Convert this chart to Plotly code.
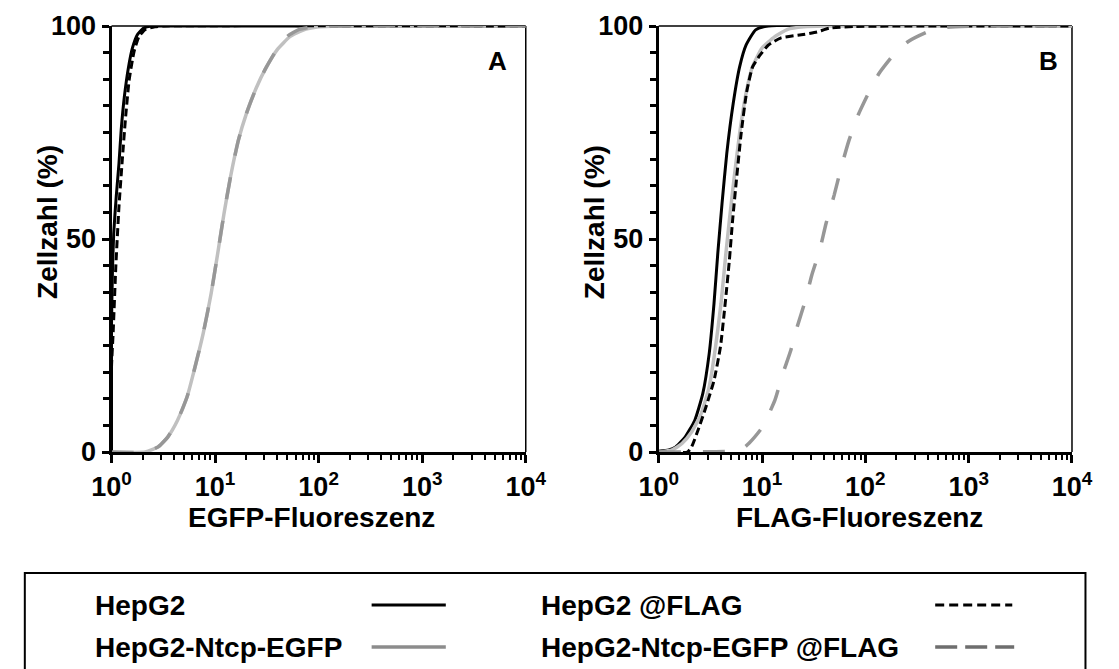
import plotly.graph_objects as go

# ---------------- data ----------------
# Panel A: EGFP fluorescence, cumulative cell number (%)
A_hepg2_x = [1.0, 1.0, 1.02, 1.05, 1.11, 1.18, 1.24, 1.33, 1.46, 1.59, 1.77, 2.04, 2.44, 3.0, 10000]
A_hepg2_y = [0, 30, 42, 51.3, 59.9, 67.7, 75.6, 83.4, 90.4, 94.8, 97.9, 99.5, 100, 100, 100]

A_hepg2_flag_x = [1.0, 1.0, 1.036, 1.10, 1.18, 1.27, 1.36, 1.48, 1.65, 1.84, 2.12, 2.62, 3.2, 10000]
A_hepg2_flag_y = [0, 20, 27.8, 43.5, 57.6, 68.5, 77.9, 87.3, 94.0, 97.5, 99.2, 99.8, 100, 100]

A_ntcp_x = [1.0, 2.12, 2.82, 3.49, 4.33, 5.36, 6.41, 7.67, 9.16, 10.6, 12.2, 14.1, 16.8, 20.1,
            24.9, 30.9, 39.7, 52.8, 70, 100, 160, 10000]
A_ntcp_y = [0, 0, 1.2, 3.5, 7.4, 12.9, 20.0, 27.8, 37.2, 46.6, 56.0, 64.6, 73.2, 79.5,
            85.4, 90.1, 94.4, 97.5, 99.0, 99.8, 100, 100]

A_ntcp_flag_x = [1.0, 2.12, 2.82, 3.49, 4.33, 5.36, 6.41, 7.67, 9.16, 10.6, 12.2, 14.1, 16.8, 20.1,
                 24.9, 30.9, 39.7, 50, 65, 90, 140, 10000]
A_ntcp_flag_y = [0, 0, 1.2, 3.5, 7.4, 12.9, 20.0, 27.8, 37.2, 46.6, 56.0, 64.6, 73.2, 79.5,
                 85.4, 90.1, 94.6, 97.6, 99.2, 99.8, 100, 100]

# Panel B: FLAG fluorescence
B_hepg2_x = [1.0, 1.25, 1.46, 1.80, 2.23, 2.67, 3.08, 3.43, 3.73, 4.10, 4.56, 5.26, 6.07, 7.0, 8.67, 11.5, 10000]
B_hepg2_y = [0.2, 0.5, 1.2, 3.5, 7.4, 13.7, 23.1, 34.9, 46.6, 58.3, 70.1, 81.8, 90.4, 95.5, 99.1, 100, 100]

B_ntcp_x = [1.0, 1.35, 1.68, 2.08, 2.58, 3.08, 3.55, 4.01, 4.40, 4.83, 5.34, 6.07, 7.0, 8.07,
            10.0, 13.3, 17.7, 25.3, 40, 10000]
B_ntcp_y = [0, 0.5, 2.0, 4.7, 9.0, 15.3, 24.7, 34.9, 45.0, 54.4, 63.8, 74.8, 84.2, 90.4,
            94.8, 97.5, 99.2, 99.8, 100, 100]

B_hepg2_flag_x = [1.0, 1.9, 2.08, 2.40, 2.87, 3.43, 3.96, 4.40, 4.83, 5.19, 5.65, 6.28, 7.1, 8.1,
                  9.6, 11.5, 15.3, 25, 34, 45, 79, 10000]
B_hepg2_flag_y = [0, 0, 1.2, 5.1, 10.6, 16.8, 24.7, 34.9, 45.0, 54.4, 63.8, 74.8, 84.5, 90.4,
                  93.2, 95.5, 97.2, 98.0, 98.6, 99.5, 99.9, 100]

B_ntcp_flag_x = [1.0, 5.0, 6.5, 7.52, 10.0, 13.3, 15.9, 19.0, 21.9, 26.2, 30.3, 36.1, 41.7, 49.9,
                 57.5, 68.7, 85.2, 109, 136, 187, 258, 409, 628, 1180, 10000]
B_ntcp_flag_y = [0, 0.2, 0.8, 2.1, 5.7, 12.1, 18.4, 23.9, 29.4, 35.5, 41.5, 47.3, 53.7, 60.3,
                 66.2, 72.8, 79.1, 84.6, 88.9, 93.2, 96.3, 98.7, 99.7, 100, 100]

series_names = ["HepG2", "HepG2-Ntcp-EGFP", "HepG2 @FLAG", "HepG2-Ntcp-EGFP @FLAG"]
x_tickvals = [1, 10, 100, 1000, 10000]
x_ticktext = ["10<sup>0</sup>", "10<sup>1</sup>", "10<sup>2</sup>", "10<sup>3</sup>", "10<sup>4</sup>"]
y_tickvals = [0, 50, 100]
y_ticktext = ["0", "50", "100"]
x_titles = ["EGFP-Fluoreszenz", "FLAG-Fluoreszenz"]
y_title = "Zellzahl (%)"
panel_letters = ["A", "B"]

# ---------------- styling ----------------
FONT = "Liberation Sans, Arial, sans-serif"
W, H = 1119, 669
Y0_PX, Y1_PX = 452, 26          # pixel rows of y=0 and y=100
PH = Y0_PX - Y1_PX


def py(px):   # pixel row -> paper y
    return (Y0_PX - px) / PH


def pxx(px):  # pixel column -> paper x
    return px / W


styles = {
    "HepG2": dict(color="black", width=3, dash="solid"),
    "HepG2-Ntcp-EGFP": dict(color="#c0c0c0", width=3.5, dash="solid"),
    "HepG2 @FLAG": dict(color="black", width=3, dash="8px,4px"),
    "HepG2-Ntcp-EGFP @FLAG": dict(color="#979797", width=3.5, dash="22px,22px"),
}

fig = go.Figure()

panelA = [(A_hepg2_x, A_hepg2_y), (A_ntcp_x, A_ntcp_y), (A_hepg2_flag_x, A_hepg2_flag_y),
          (A_ntcp_flag_x, A_ntcp_flag_y)]
panelB = [(B_hepg2_x, B_hepg2_y), (B_ntcp_x, B_ntcp_y), (B_hepg2_flag_x, B_hepg2_flag_y),
          (B_ntcp_flag_x, B_ntcp_flag_y)]

for (xs, ys), name in zip(panelA, series_names):
    fig.add_trace(go.Scatter(x=xs, y=ys, mode="lines", name=name, xaxis="x", yaxis="y",
                             line=dict(shape="spline", smoothing=0.5, **styles[name]),
                             showlegend=False))
for (xs, ys), name in zip(panelB, series_names):
    fig.add_trace(go.Scatter(x=xs, y=ys, mode="lines", name=name, xaxis="x2", yaxis="y2",
                             line=dict(shape="spline", smoothing=0.5, **styles[name]),
                             showlegend=False))

minor_x = [m * 10 ** d for d in range(4) for m in range(2, 10)]
minor_y = [i * 6.25 for i in range(17) if (i * 6.25) not in y_tickvals]

tickfont = dict(family=FONT, size=27, color="black", weight="bold")


def xaxis(domain, anchor):
    return dict(domain=domain, anchor=anchor, type="log", range=[0, 4],
                tickmode="array", tickvals=x_tickvals, ticktext=x_ticktext,
                ticks="outside", ticklen=8, tickwidth=2.5, tickcolor="black",
                minor=dict(tickvals=minor_x, ticks="outside", ticklen=5, tickwidth=2, tickcolor="black"),
                showline=True, linewidth=3, linecolor="black",
                showgrid=False, zeroline=False, tickfont=tickfont, ticklabelstandoff=1)


def yaxis(anchor):
    return dict(domain=[0, 1], anchor=anchor, range=[0, 100],
                tickmode="array", tickvals=y_tickvals, ticktext=y_ticktext,
                ticks="outside", ticklen=7, tickwidth=2.5, tickcolor="black",
                minor=dict(tickvals=minor_y, ticks="outside", ticklen=6, tickwidth=2.5, tickcolor="black"),
                showline=True, linewidth=3, linecolor="black",
                showgrid=False, zeroline=False, tickfont=tickfont)


xA = [pxx(95), pxx(525)]
xB = [pxx(663), pxx(1092)]

annotations = []
shapes = []

# panel frames (thin top and right lines)
for xr, yr in [("x domain", "y domain"), ("x2 domain", "y2 domain")]:
    shapes.append(dict(type="line", xref=xr, yref=yr, x0=0, x1=1, y0=1, y1=1,
                       line=dict(color="black", width=1.5), layer="below"))
    shapes.append(dict(type="line", xref=xr, yref=yr, x0=1, x1=1, y0=0, y1=1,
                       line=dict(color="black", width=1.5), layer="below"))

# axis titles and panel letters
title_font = dict(family=FONT, size=28, color="black", weight="bold")
for i, (xt, letter) in enumerate(zip(x_titles, panel_letters)):
    off = 0 if i == 0 else 568
    annotations.append(dict(text=xt, xref="paper", yref="paper", x=pxx(303 + off),
                            y=py(517), xanchor="center", yanchor="middle", showarrow=False,
                            font=title_font))
    annotations.append(dict(text=y_title, xref="paper", yref="paper", x=pxx(28 + off), y=py(222),
                            xanchor="center", yanchor="middle", textangle=-90, showarrow=False,
                            font=title_font))
    annotations.append(dict(text=letter, xref="paper", yref="paper", x=pxx(496 if i == 0 else 1068),
                            y=py(61), xanchor="center", yanchor="middle", showarrow=False,
                            font=dict(family=FONT, size=26, color="black", weight="bold")))

# custom legend (text left, line sample right)
shapes.append(dict(type="rect", xref="paper", yref="paper", x0=pxx(5), x1=pxx(1106),
                   y0=py(573), y1=py(690), line=dict(color="black", width=2), fillcolor="rgba(0,0,0,0)"))
legend_samples = {
    "HepG2": dict(color="black", width=3, dash="solid"),
    "HepG2-Ntcp-EGFP": dict(color="#8c8c8c", width=3.5, dash="solid"),
    "HepG2 @FLAG": dict(color="black", width=3, dash="9px,5px"),
    "HepG2-Ntcp-EGFP @FLAG": dict(color="#6e6e6e", width=3.5, dash="22px,8px"),
}
legend_pos = {
    "HepG2": (76, 365, 442, 605),
    "HepG2-Ntcp-EGFP": (76, 365, 442, 647),
    "HepG2 @FLAG": (539, 950, 1030, 605),
    "HepG2-Ntcp-EGFP @FLAG": (539, 950, 1032, 647),
}
for name in series_names:
    tx, lx0, lx1, ly = legend_pos[name]
    annotations.append(dict(text=name, xref="paper", yref="paper", x=pxx(tx), y=py(ly),
                            xanchor="left", yanchor="middle", showarrow=False,
                            font=dict(family=FONT, size=28, color="black", weight="bold")))
    shapes.append(dict(type="line", xref="paper", yref="paper", x0=pxx(lx0), x1=pxx(lx1),
                       y0=py(ly), y1=py(ly), line=legend_samples[name]))

fig.update_layout(
    width=W, height=H,
    margin=dict(l=0, r=0, t=Y1_PX, b=H - Y0_PX),
    paper_bgcolor="white", plot_bgcolor="white",
    xaxis=xaxis(xA, "y"), yaxis=yaxis("x"),
    xaxis2=xaxis(xB, "y2"), yaxis2=yaxis("x2"),
    annotations=annotations, shapes=shapes,
    showlegend=False,
    font=dict(family=FONT, color="black"),
)

fig.write_html("out.html", config={"displayModeBar": False},
               post_script="document.body.style.margin='0';document.body.style.overflow='hidden';")
